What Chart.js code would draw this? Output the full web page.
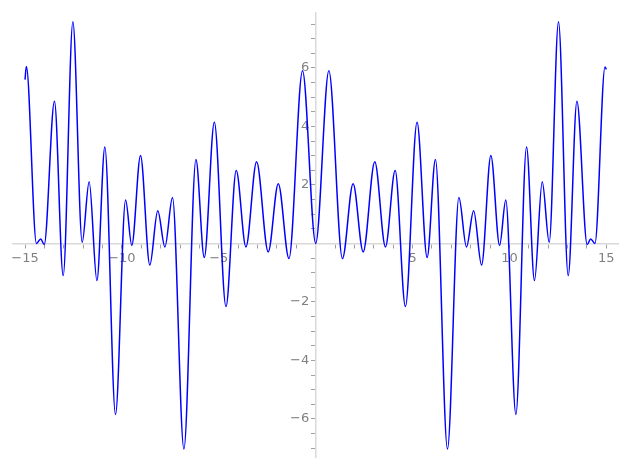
<!DOCTYPE html>
<html>
<head>
<meta charset="utf-8">
<script src="https://cdn.jsdelivr.net/npm/chart.js@4"></script>
<style>
  body { margin: 0; background: #fff; }
  canvas { display: block; }
</style>
</head>
<body>
<canvas id="canvas" width="627" height="470"></canvas>
<script>
// curve points (extrema, left to right)
var xValues = [
  -15.0, -14.93, -14.41, -14.19, -14.01, -13.48, -13.03, -12.53, -12.05, -11.69, -11.29, -10.88,
  -10.33, -9.81, -9.49, -9.04, -8.56, -8.15, -7.78, -7.39, -6.80, -6.18, -5.75, -5.23,
  -4.63, -4.10, -3.60, -3.05, -2.45, -1.93, -1.38, -0.68,
  0,
  0.68, 1.38, 1.93, 2.45, 3.05, 3.60, 4.10, 4.63, 5.23, 5.75, 6.18,
  6.80, 7.39, 7.78, 8.15, 8.56, 9.04, 9.49, 9.81, 10.33, 10.88, 11.29, 11.69,
  12.05, 12.53, 13.03, 13.48, 14.01, 14.19, 14.41, 14.93, 15.0
];
var yValues = [
  5.6, 6.05, 0.0, 0.15, -0.04, 4.86, -1.1, 7.58, 0.04, 2.11, -1.27, 3.3,
  -5.85, 1.48, -0.07, 3.01, -0.74, 1.12, -0.12, 1.57, -7.03, 2.87, -0.48, 4.14,
  -2.16, 2.49, -0.12, 2.79, -0.29, 2.04, -0.52, 5.9,
  0.0,
  5.9, -0.52, 2.04, -0.29, 2.79, -0.12, 2.49, -2.16, 4.14, -0.48, 2.87,
  -7.03, 1.57, -0.12, 1.12, -0.74, 3.01, -0.07, 1.48, -5.85, 3.3, -1.27, 2.11,
  0.04, 7.58, -1.1, 4.86, -0.04, 0.15, 0.0, 6.03, 5.95
];

// ticks: every 1 on x, every 0.5 on y; only the majors get a label
var xTicks = [-15,-14,-13,-12,-11,-10,-9,-8,-7,-6,-5,-4,-3,-2,-1,0,1,2,3,4,5,6,7,8,9,10,11,12,13,14,15];
var xLabels = [-15, -10, -5, 5, 10, 15];
var yTicks = [-7,-6.5,-6,-5.5,-5,-4.5,-4,-3.5,-3,-2.5,-2,-1.5,-1,-0.5,0,0.5,1,1.5,2,2.5,3,3.5,4,4.5,5,5.5,6,6.5,7,7.5];
var yLabels = [-6, -4, -2, 2, 4, 6];

var points = xValues.map(function(x, i) { return {x: x, y: yValues[i]}; });

function fmt(v) {
  return v < 0 ? '\u2212' + Math.abs(v) : String(v);
}

var axisColor = '#d9d9d9';
var tickColor = '#a0a0a0';
var labelColor = '#808080';
var tickFont = {family: 'DejaVu Sans', size: 13};

new Chart(document.getElementById('canvas').getContext('2d'), {
  type: 'line',
  data: {
    datasets: [{
      data: points,
      borderColor: '#0000ff',
      borderWidth: 1.5,
      pointRadius: 0,
      fill: false,
      cubicInterpolationMode: 'monotone'
    }]
  },
  options: {
    responsive: false,
    animation: false,
    layout: {padding: {left: 13, right: 9, top: 10, bottom: 11}},
    plugins: {legend: {display: false}, tooltip: {enabled: false}},
    scales: {
      x: {
        type: 'linear',
        position: {y: 0},
        min: -15.62,
        max: 15.6,
        afterBuildTicks: function(axis) {
          axis.ticks = xTicks.map(function(v) { return {value: v}; });
        },
        border: {display: true, color: axisColor, width: 1.5},
        grid: {drawOnChartArea: false, drawTicks: true, tickLength: 4, color: tickColor},
        ticks: {
          autoSkip: false,
          maxRotation: 0,
          padding: 3,
          color: labelColor,
          font: tickFont,
          callback: function(v) { return xLabels.indexOf(v) >= 0 ? fmt(v) : ''; }
        }
      },
      y: {
        type: 'linear',
        position: {x: 0},
        min: -7.31,
        max: 7.885,
        afterBuildTicks: function(axis) {
          axis.ticks = yTicks.map(function(v) { return {value: v}; });
        },
        border: {display: true, color: axisColor, width: 1.5},
        grid: {drawOnChartArea: false, drawTicks: true, tickLength: 4, color: tickColor},
        ticks: {
          autoSkip: false,
          padding: 5,
          color: labelColor,
          font: tickFont,
          // labels sit right against the centred axis, so push them off with an en space
          callback: function(v) { return yLabels.indexOf(v) >= 0 ? fmt(v) + '\u2002' : ''; }
        }
      }
    }
  }
});
</script>
</body>
</html>
